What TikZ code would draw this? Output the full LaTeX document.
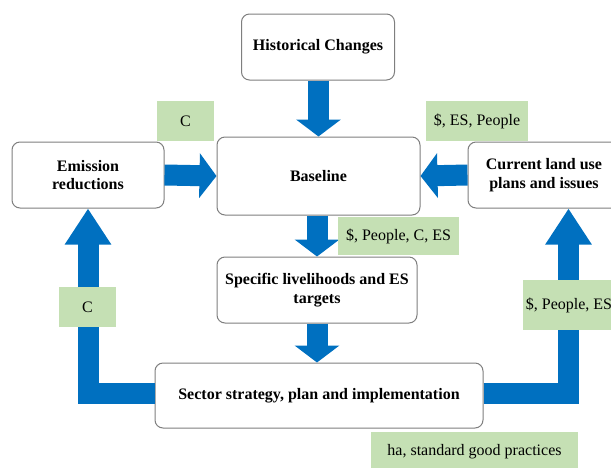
\documentclass[tikz,border=0pt]{standalone}
\usepackage{fontspec}
\setmainfont{Liberation Serif}
\usetikzlibrary{arrows.meta}
\definecolor{flowblue}{HTML}{0070C0}
\definecolor{taggreen}{HTML}{C5E0B4}
\definecolor{boxgray}{HTML}{7F7F7F}
\tikzset{
  stage/.style={draw=boxgray, line width=1pt, rounded corners=8pt, fill=white,
    align=center, inner sep=0pt, font=\bfseries\fontsize{16}{18.5}\selectfont},
  tag/.style={fill=taggreen, inner sep=0pt, font=\fontsize{16}{18.5}\selectfont},
  flow/.style={draw=flowblue, line width=21pt, -{Triangle[width=44pt,length=17pt]}},
  upflow/.style={draw=flowblue, line width=21pt, -{Triangle[width=44pt,length=36pt]}},
}
\begin{document}
\begin{tikzpicture}[x=1pt, y=-1pt]
    \useasboundingbox (0, 0) rectangle (611, 467);

    \node [stage, minimum width=153pt, minimum height=66pt] (hist) at (318, 47) {Historical Changes};
    \node [stage, minimum width=203pt, minimum height=78pt] (baseline) at (318.5, 176) {Baseline};
    \node [stage, minimum width=152pt, minimum height=66pt] (emission) at (88, 175) {Emission\\reductions};
    \node [stage, minimum width=152pt, minimum height=66pt] (current) at (544, 175) {Current land use\\plans and issues};
    \node [stage, minimum width=200pt, minimum height=66pt] (specific) at (317, 290) {Specific livelihoods and ES\\targets};
    \node [stage, minimum width=328pt, minimum height=65pt] (sector) at (319, 395.5) {Sector strategy, plan and implementation};

    \draw [flow] (baseline.north |- hist.south) -- (baseline.north);
    \draw [flow] (emission.east) -- (baseline.west);
    \draw [flow] (current.west) -- (baseline.east);
    \draw [flow] (specific.north |- baseline.south) -- (specific.north);
    \draw [flow] (specific.south) -- (specific.south |- sector.north);
    \draw [upflow] ([yshift=2pt]sector.west) -| (emission.south);
    \draw [upflow] ([yshift=2pt]sector.east) -| ([xshift=24.5pt]current.south);

    \node [tag, minimum width=57pt, minimum height=40pt] (tagC) at (185.5, 121) {C};
    \node [tag, minimum width=102pt, minimum height=40pt] (tagESP) at (477, 121) {\$, ES, People};
    \node [tag, minimum width=121pt, minimum height=38pt] (tagPCES) at (398.5, 236) {\$, People, C, ES};
    \node [tag, minimum width=57pt, minimum height=40pt] (tagCleft) at (87.5, 307) {C};
    \node [tag, minimum width=93pt, minimum height=50pt] (tagPES) at (569, 305) {\$, People, ES};
    \node [tag, minimum width=207pt, minimum height=40pt] (tagha) at (474.5, 452) {ha, standard good practices};
  \end{tikzpicture}
\end{document}
